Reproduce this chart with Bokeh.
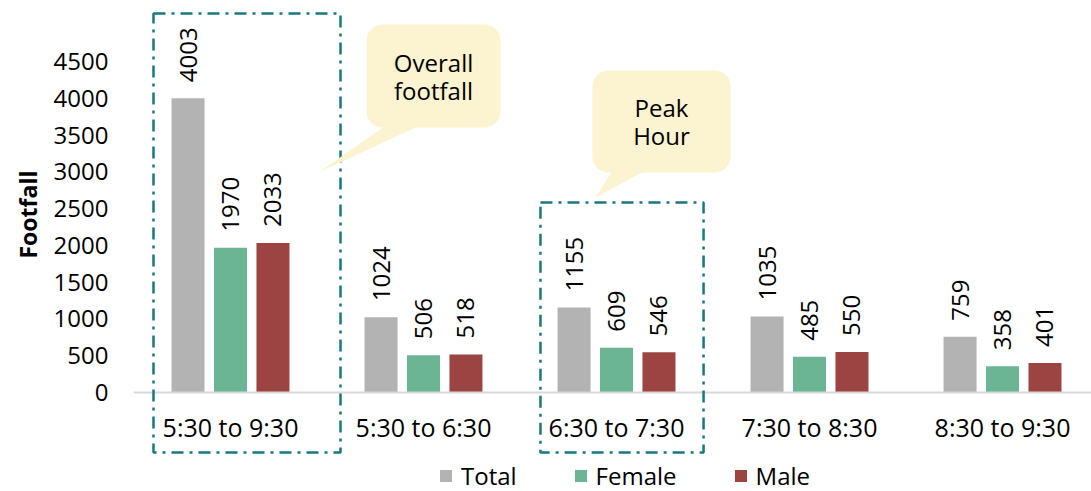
from math import pi
from bokeh.plotting import figure
from bokeh.models import (Range1d, FixedTicker, BoxAnnotation, PolyAnnotation, Label,
                          Legend, LegendItem, ColumnDataSource, Span, Title)
from bokeh.embed import file_html
from bokeh.resources import INLINE
from bokeh.core.properties import value

# ---- data ----
categories = ["5:30 to 9:30", "5:30 to 6:30", "6:30 to 7:30", "7:30 to 8:30", "8:30 to 9:30"]
total = [4003, 1024, 1155, 1035, 759]
female = [1970, 506, 609, 485, 358]
male = [2033, 518, 546, 550, 401]
series_names = ["Total", "Female", "Male"]
y_ticks = [0, 500, 1000, 1500, 2000, 2500, 3000, 3500, 4000, 4500]
y_title = "Footfall"
callout_lines = [["Overall", "footfall"], ["Peak", "Hour"]]

FONT = "Open Sans"
TEAL = "#17787f"
CALLOUT = "#fcf3d0"
colors = ["#b3b3b3", "#6bb594", "#9c4442"]
offsets = [-0.22, 0.0, 0.22]

p = figure(width=1091, height=491, output_backend="svg", toolbar_location=None,
           x_range=Range1d(-0.5026, 4.461), y_range=Range1d(-1347, 5333),
           min_border_left=133, min_border_right=0, min_border_top=0, min_border_bottom=0)
p.outline_line_color = None
p.xgrid.visible = False
p.ygrid.visible = False
p.xaxis.visible = False
p.background_fill_color = "white"
p.border_fill_color = "white"

# category baseline
p.add_layout(Span(location=0, dimension="width", line_color="#d9d9d9", line_width=2))

idx = list(range(len(categories)))
legend_items = []
for name, vals, color, off in zip(series_names, [total, female, male], colors, offsets):
    src = ColumnDataSource(dict(x=[i + off for i in idx], top=vals, lbl=[str(v) for v in vals]))
    r = p.vbar(x="x", top="top", width=0.171, source=src, fill_color=color, line_color=None)
    p.text(x="x", y="top", text="lbl", source=src, angle=pi / 2, text_align="left",
           text_baseline="middle", y_offset=-16, text_font=value(FONT),
           text_font_size="24px", text_color="#000000")
    legend_items.append(LegendItem(label=name, renderers=[r]))

# category labels under the baseline
cat_src = ColumnDataSource(dict(x=idx, y=[0] * len(idx), text=categories))
p.text(x="x", y="y", text="text", source=cat_src, text_align="center", text_baseline="middle",
       y_offset=35, text_font=value(FONT), text_font_size="25px", text_color="#000000")

# y axis
p.yaxis.ticker = FixedTicker(ticks=y_ticks)
p.yaxis.axis_line_color = None
p.yaxis.major_tick_line_color = None
p.yaxis.minor_tick_line_color = None
p.yaxis.major_tick_out = 0
p.yaxis.major_label_text_font = FONT
p.yaxis.major_label_text_font_size = "24px"
p.yaxis.major_label_text_color = "#000000"
p.yaxis.major_label_standoff = 25

p.add_layout(Title(text=y_title, align="left", offset=233, text_font=FONT,
                   text_font_size="23px", text_font_style="bold", text_color="#000000",
                   standoff=14), "left")

# dashed highlight boxes
for l, r_, t, b in [(-0.399, 0.570, 5156, -816), (1.606, 2.451, 2585, -816)]:
    p.add_layout(BoxAnnotation(left=l, right=r_, top=t, bottom=b, fill_color=None, fill_alpha=0,
                               line_color=TEAL, line_alpha=1, line_width=2.5,
                               line_dash="12 6 3 6"))

# callouts
callouts = [
    dict(box=(0.705, 1.399, 5007, 3605), tri=([0.813, 0.995, 0.456], [3650, 3650, 2993]),
         tx=1.052, ty=[4490, 4109]),
    dict(box=(1.875, 2.591, 4381, 2993), tri=([1.984, 2.166, 1.891], [3040, 3040, 2653]),
         tx=2.233, ty=[3878, 3497]),
]
for c, lines in zip(callouts, callout_lines):
    l, r_, top, bot = c["box"]
    p.add_layout(BoxAnnotation(left=l, right=r_, top=top, bottom=bot, fill_color=CALLOUT,
                               fill_alpha=1, line_color=None, border_radius=16))
    p.add_layout(PolyAnnotation(xs=c["tri"][0], ys=c["tri"][1], fill_color=CALLOUT,
                                fill_alpha=1, line_color=None))
    for t, yy in zip(lines, c["ty"]):
        p.add_layout(Label(x=c["tx"], y=yy, text=t, text_align="center",
                           text_baseline="middle", text_font=FONT, text_font_size="24px",
                           text_color="#000000"))

legend = Legend(items=legend_items, orientation="horizontal", location=(305, -1),
                label_text_font=FONT, label_text_font_size="24px", label_text_color="#000000",
                glyph_width=15, glyph_height=15, label_standoff=8, spacing=56,
                padding=0, margin=0, border_line_color=None, background_fill_alpha=0)
p.add_layout(legend)

open("out.html", "w").write(file_html(p, INLINE))
